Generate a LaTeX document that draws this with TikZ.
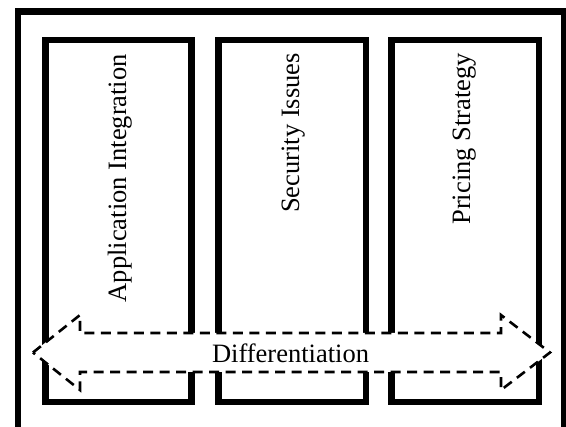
\documentclass[tikz,border=0pt]{standalone}
\usepackage{fontspec}
\setmainfont{Liberation Serif}
\begin{document}
\begin{tikzpicture}[x=1pt,y=-1pt,
  outerbox/.style={draw=black,line width=6.5pt},
  colbox/.style={draw=black,line width=6.8pt},
  coltext/.style={rotate=90,anchor=base east,inner sep=0pt,font=\fontsize{26.5}{30}\selectfont},
  arrowline/.style={draw=black,line width=2.6pt,dash pattern=on 10pt off 6.5pt},
  lbl/.style={anchor=base,inner sep=0pt,font=\fontsize{26.5}{30}\selectfont}]
\useasboundingbox (0,0) rectangle (566,427);
\clip (0,0) rectangle (566,427);
\fill[white] (0,0) rectangle (566,427);
% outer frame
\draw[outerbox] (18,11.5) rectangle (564.5,440);
% columns
\draw[colbox] (45.3,40) rectangle (191.5,402);
\draw[colbox] (218.5,40) rectangle (366,402);
\draw[colbox] (391.5,40) rectangle (539,402);
\node[coltext] (t1) at (126,54) {Application Integration};
\node[coltext] (t2) at (299,53) {Security Issues};
\node[coltext] (t3) at (470,53) {Pricing Strategy};
% double arrow
\fill[white] (33,352.5) -- (80,315) -- (80,333) -- (501,333) -- (501,315) -- (550,352.5)
  -- (501,390) -- (501,372) -- (80,372) -- (80,390) -- cycle;
\draw[arrowline] (33,352.5) -- (80,315) -- (80,333) -- (501,333) -- (501,315) -- (550,352.5)
  -- (501,390) -- (501,372) -- (80,372) -- (80,390) -- cycle;
\node[lbl] (d) at (290.5,363) {Differentiation};
\end{tikzpicture}
\end{document}
